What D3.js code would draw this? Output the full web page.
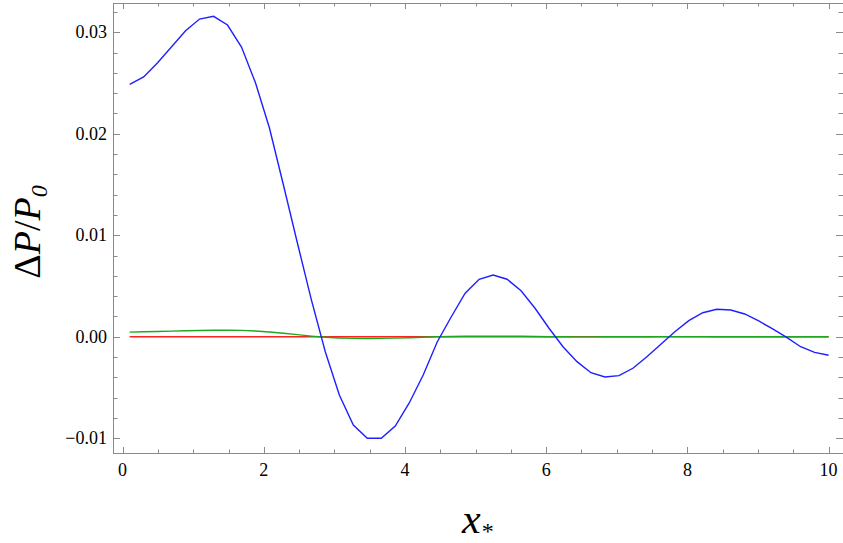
<!DOCTYPE html>
<html>
<head>
<meta charset="utf-8">
<script src="https://cdn.jsdelivr.net/npm/d3@7"></script>
<style>
  body { margin: 0; background: #fff; }
</style>
</head>
<body>
<div class="chart"></div>
<script>
// sample positions x* (same grid for all three curves)
const xValues = [
  0.1, 0.298, 0.496, 0.694, 0.892, 1.09, 1.288, 1.486, 1.684, 1.882,
  2.08, 2.278, 2.476, 2.674, 2.872, 3.07, 3.268, 3.466, 3.664, 3.862,
  4.06, 4.258, 4.456, 4.654, 4.852, 5.05, 5.248, 5.446, 5.644, 5.842,
  6.04, 6.238, 6.436, 6.634, 6.832, 7.03, 7.228, 7.426, 7.624, 7.822,
  8.02, 8.218, 8.416, 8.614, 8.812, 9.01, 9.208, 9.406, 9.604, 9.802, 10.0
];

// blue curve
const blueValues = [
  0.02487, 0.02559, 0.02700, 0.02857, 0.03015, 0.03130, 0.03157, 0.03071, 0.02854, 0.02502,
  0.02056, 0.01495, 0.00923, 0.00362, -0.00151, -0.00574, -0.00870, -0.01001, -0.01001, -0.00880,
  -0.00653, -0.00377, -0.00052, 0.00194, 0.00428, 0.00566, 0.00608, 0.00566, 0.00453, 0.00280,
  0.00083, -0.00099, -0.00246, -0.00355, -0.00397, -0.00384, -0.00311, -0.00197, -0.00075, 0.00049,
  0.00158, 0.00236, 0.00270, 0.00263, 0.00224, 0.00155, 0.00076, -0.00006, -0.00099, -0.00154, -0.00183
];

// green curve
const greenValues = [
  0.00045, 0.00048, 0.00051, 0.00055, 0.00058, 0.00061, 0.00063, 0.00064, 0.00062, 0.00056,
  0.00046, 0.00034, 0.00020, 0.00006, -0.00006, -0.00013, -0.00017, -0.00018, -0.00017, -0.00014,
  -0.00010, -0.00005, -0.00001, 0.00002, 0.00004, 0.00005, 0.00005, 0.00005, 0.00004, 0.00002,
  0.00000, -0.00001, -0.00002, -0.00002, -0.00001, -0.00001, 0.00000, 0.00000, 0.00001, 0.00001,
  0.00001, 0.00001, 0.00000, 0.00000, 0.00000, 0.00000, 0.00000, 0.00000, 0.00000, 0.00000, 0.00000
];

// red curve
const redValues = [
  0, 0, 0, 0, 0, 0, 0, 0, 0, 0,
  0, 0, 0, 0, 0, 0, 0, 0, 0, 0,
  0, 0, 0, 0, 0, 0, 0, 0, 0, 0,
  0, 0, 0, 0, 0, 0, 0, 0, 0, 0,
  0, 0, 0, 0, 0, 0, 0, 0, 0, 0, 0
];

const xTicks = [0, 2, 4, 6, 8, 10];
const yTicks = [-0.01, 0, 0.01, 0.02, 0.03];

const width = 843, height = 543;
const margin = { top: 3, right: 0, bottom: 90, left: 113 };
const serif = "'Liberation Serif', 'Times New Roman', 'DejaVu Serif', serif";

const svg = d3
  .select(".chart")
  .append("svg")
  .attr("width", width)
  .attr("height", height)
  .attr("font-family", serif);

const x = d3.scaleLinear().domain([-0.136, 10.204]).range([margin.left, width - margin.right]);
const y = d3.scaleLinear().domain([-0.01146, 0.03288]).range([height - margin.bottom, margin.top]);

const frameColor = "#8a8a8a";

// minor ticks
const xMinor = d3.range(0, 10.01, 0.5).filter((d) => xTicks.indexOf(d) < 0);
const yMinor = d3.range(-0.01, 0.0325, 0.002).filter(
  (d) => !yTicks.some((t) => Math.abs(t - d) < 1e-6)
);

function tickLines(g, axis, major, minor, side) {
  const all = major.map((d) => ({ v: d, len: 7 })).concat(minor.map((d) => ({ v: d, len: 4.5 })));
  g.selectAll("line")
    .data(all)
    .enter()
    .append("line")
    .attr("stroke", frameColor)
    .attr("stroke-width", 1)
    .each(function (d) {
      const s = d3.select(this);
      if (axis == "x") {
        const px = Math.round(x(d.v)) + 0.5;
        const y0 = side == "bottom" ? y.range()[0] : y.range()[1];
        const dir = side == "bottom" ? -1 : 1;
        s.attr("x1", px).attr("x2", px).attr("y1", y0).attr("y2", y0 + dir * (d.len - 1));
      } else {
        const py = Math.round(y(d.v)) + 0.5;
        const x0 = side == "left" ? x.range()[0] : x.range()[1];
        const dir = side == "left" ? 1 : -1;
        s.attr("y1", py).attr("y2", py).attr("x1", x0).attr("x2", x0 + dir * d.len);
      }
    });
}

const frame = svg.append("g");
frame.append("rect")
  .attr("x", margin.left + 0.5)
  .attr("y", margin.top + 0.5)
  .attr("width", width - margin.left - margin.right)
  .attr("height", y.range()[0] - margin.top)
  .attr("fill", "none")
  .attr("stroke", frameColor)
  .attr("stroke-width", 1);

tickLines(frame.append("g"), "x", xTicks, xMinor, "bottom");
tickLines(frame.append("g"), "x", xTicks, xMinor, "top");
tickLines(frame.append("g"), "y", yTicks, yMinor, "left");
tickLines(frame.append("g"), "y", yTicks, yMinor, "right");

// tick labels
svg.append("g")
  .selectAll("text")
  .data(xTicks)
  .enter()
  .append("text")
  .attr("x", (d) => x(d))
  .attr("y", 476)
  .attr("text-anchor", "middle")
  .attr("font-size", "18px")
  .text((d) => d);

const fmt = d3.format(".2f");
svg.append("g")
  .selectAll("text")
  .data(yTicks)
  .enter()
  .append("text")
  .attr("x", 107)
  .attr("y", (d) => y(d) + 6)
  .attr("text-anchor", "end")
  .attr("font-size", "18px")
  .text((d) => fmt(d));

// curves
const line = d3.line()
  .x((d) => x(d[0]))
  .y((d) => y(d[1]));

const series = [
  { values: redValues, color: "#ff2020" },
  { values: greenValues, color: "#1fa81f" },
  { values: blueValues, color: "#1f1fff" },
];

svg.append("g")
  .selectAll("path")
  .data(series)
  .enter()
  .append("path")
  .attr("fill", "none")
  .attr("stroke", (d) => d.color)
  .attr("stroke-width", 1.4)
  .attr("d", (d) => line(xValues.map((v, i) => [v, d.values[i]])));

// axis titles
const xTitle = svg.append("text")
  .attr("x", 462)
  .attr("y", 533)
  .attr("font-size", "42px")
  .attr("font-style", "italic");
xTitle.append("tspan").text("x");
xTitle.append("tspan")
  .attr("font-size", "24px")
  .attr("font-style", "normal")
  .attr("dx", 1)
  .attr("dy", 6)
  .text("*");

const yTitle = svg.append("text")
  .attr("transform", "translate(40,232) rotate(-90)")
  .attr("text-anchor", "middle")
  .attr("font-size", "38px");
yTitle.append("tspan").text("Δ");
yTitle.append("tspan").attr("font-style", "italic").text("P");
yTitle.append("tspan").text("/");
yTitle.append("tspan").attr("font-style", "italic").text("P");
yTitle.append("tspan")
  .attr("font-style", "italic")
  .attr("font-size", "24px")
  .attr("dy", 7)
  .text("0");
</script>
</body>
</html>
